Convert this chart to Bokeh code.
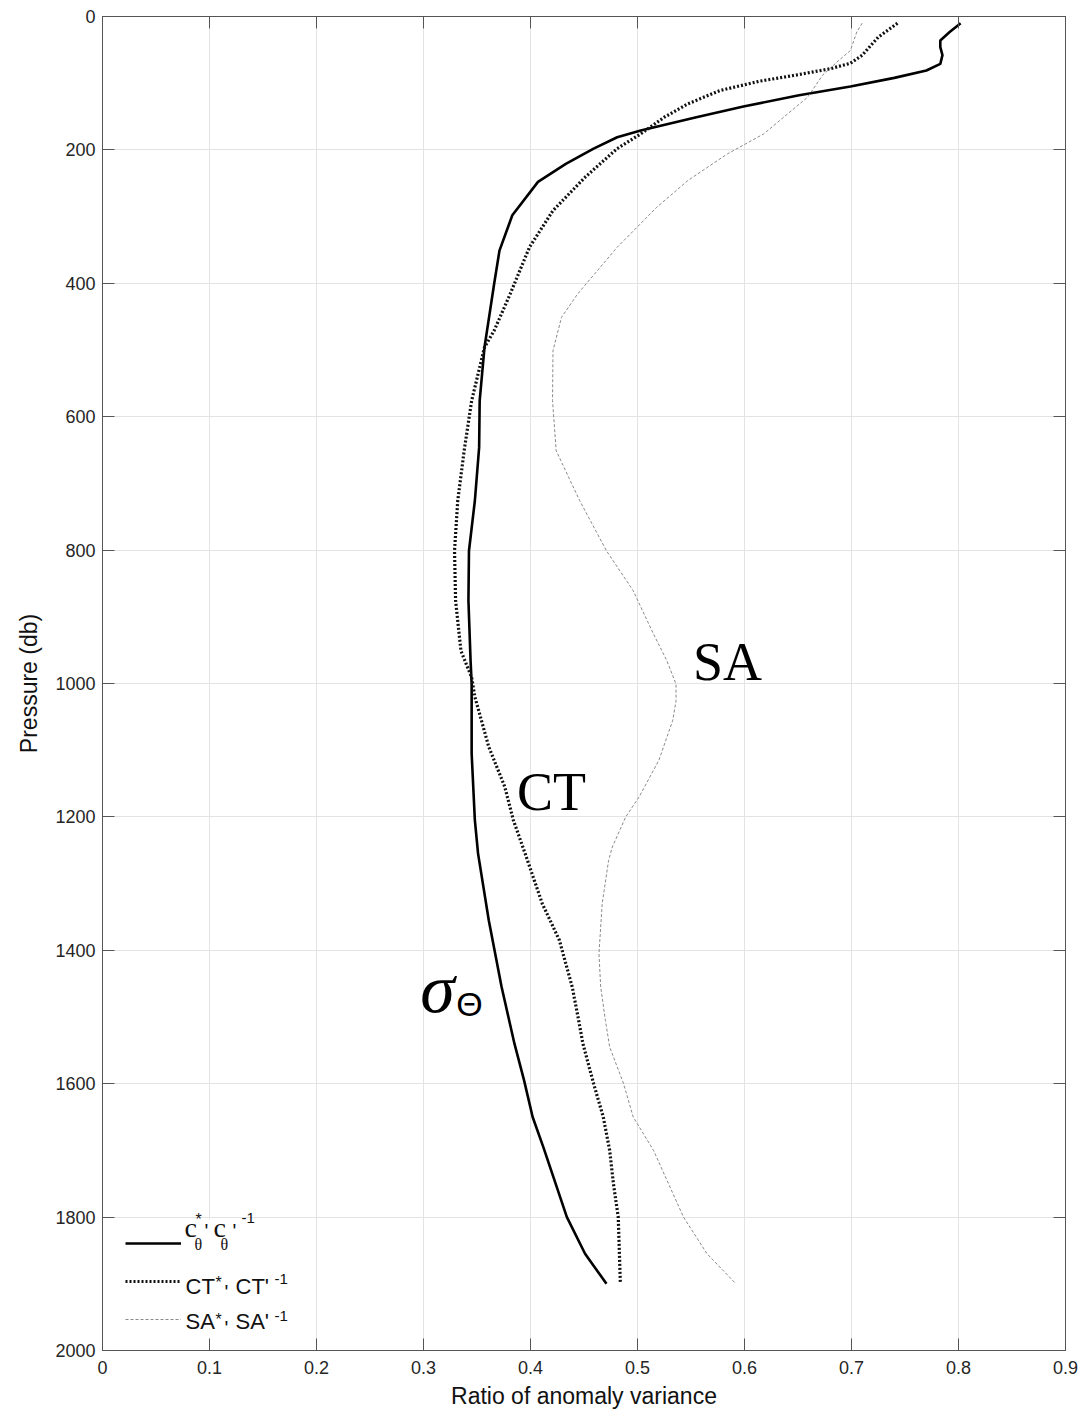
from bokeh.plotting import figure
from bokeh.models import (Range1d, FixedTicker, LinearAxis, Legend, LegendItem, Label, BoxAnnotation)
from bokeh.embed import file_html
from bokeh.resources import INLINE

# ---------------- data ----------------
p_ctheta = [10, 23, 36, 46, 58, 71, 81, 92, 105, 118, 135, 151, 171, 181, 198, 221, 248, 298, 351,
            401, 496, 576, 646, 726, 801, 876, 966, 1000, 1105, 1205, 1255, 1355, 1455, 1540, 1595,
            1650, 1695, 1800, 1855, 1900]
r_ctheta = [0.802, 0.792, 0.783, 0.783, 0.785, 0.783, 0.770, 0.740, 0.699, 0.651, 0.599, 0.555, 0.503,
            0.481, 0.459, 0.433, 0.407, 0.383, 0.371, 0.366, 0.357, 0.3525, 0.352, 0.348, 0.3425,
            0.342, 0.344, 0.345, 0.345, 0.348, 0.351, 0.361, 0.373, 0.385, 0.394, 0.402, 0.412,
            0.434, 0.451, 0.471]

p_ct = [10, 31, 58, 70, 78, 87, 97, 111, 131, 151, 176, 198, 241, 291, 346, 416, 471, 496, 576, 651,
        726, 801, 876, 951, 991, 1020, 1095, 1155, 1205, 1255, 1330, 1385, 1455, 1505, 1540, 1600,
        1650, 1700, 1750, 1800, 1900]
r_ct = [0.743, 0.725, 0.710, 0.699, 0.681, 0.651, 0.614, 0.577, 0.547, 0.525, 0.503, 0.481, 0.451,
        0.421, 0.399, 0.381, 0.366, 0.357, 0.345, 0.338, 0.332, 0.329, 0.330, 0.335, 0.345, 0.348,
        0.361, 0.376, 0.384, 0.395, 0.411, 0.427, 0.439, 0.445, 0.449, 0.459, 0.468, 0.474,
        0.4775, 0.482, 0.484]

p_sa = [10, 23, 51, 66, 88, 121, 141, 176, 206, 246, 286, 346, 416, 451, 501, 576, 651, 726, 801,
        861, 926, 966, 1001, 1026, 1055, 1115, 1170, 1200, 1245, 1265, 1330, 1405, 1455, 1505,
        1545, 1600, 1650, 1700, 1800, 1855, 1900]
r_sa = [0.710, 0.705, 0.699, 0.688, 0.673, 0.659, 0.644, 0.618, 0.584, 0.547, 0.518, 0.481, 0.444,
        0.429, 0.421, 0.4206, 0.424, 0.446, 0.471, 0.496, 0.515, 0.5275, 0.536, 0.536, 0.533,
        0.520, 0.5015, 0.489, 0.4765, 0.473, 0.467, 0.464, 0.4656, 0.470, 0.474, 0.487, 0.496,
        0.515, 0.543, 0.565, 0.592]

x_ticks = [0, 0.1, 0.2, 0.3, 0.4, 0.5, 0.6, 0.7, 0.8, 0.9]
x_tick_labels = ["0", "0.1", "0.2", "0.3", "0.4", "0.5", "0.6", "0.7", "0.8", "0.9"]
y_ticks = [0, 200, 400, 600, 800, 1000, 1200, 1400, 1600, 1800, 2000]

# ---------------- layout ----------------
W, H = 1081, 1413
FL, FR, FT, FB = 102, 1065, 16, 1350   # frame edges in pixels
XMAX, YMAX = 0.9, 2000


def dx(px):
    return (px - FL) / (FR - FL) * XMAX


def dy(py):
    return (py - FT) / (FB - FT) * YMAX


SANS = "Liberation Sans"
SERIF = "Liberation Serif"
AX = "#262626"

p = figure(width=W, height=H, output_backend="svg", toolbar_location=None,
           x_range=Range1d(0, XMAX), y_range=Range1d(YMAX, 0),
           min_border_left=FL, min_border_right=W - FR, min_border_top=FT, min_border_bottom=H - FB,
           x_axis_label="Ratio of anomaly variance", y_axis_label="Pressure (db)")
p.background_fill_color = "white"
p.border_fill_color = "white"
p.outline_line_color = "#555555"
p.outline_line_width = 1

p.xgrid.ticker = FixedTicker(ticks=x_ticks)
p.ygrid.ticker = FixedTicker(ticks=y_ticks)
p.grid.grid_line_color = "#e3e3e3"
p.grid.grid_line_width = 1

for ax in (p.xaxis[0], p.yaxis[0]):
    ax.axis_line_color = "#555555"
    ax.major_tick_line_color = "#555555"
    ax.major_tick_in = 12
    ax.major_tick_out = 0
    ax.minor_tick_line_color = None
    ax.major_label_text_font = SANS
    ax.major_label_text_font_size = "18px"
    ax.major_label_text_color = AX
    ax.axis_label_text_font = SANS
    ax.axis_label_text_font_size = "23px"
    ax.axis_label_text_font_style = "normal"
    ax.axis_label_text_color = "#111111"

p.xaxis.ticker = FixedTicker(ticks=x_ticks)
p.xaxis.major_label_overrides = {t: l for t, l in zip(x_ticks, x_tick_labels)}
p.xaxis.major_label_standoff = 10
p.xaxis.axis_label_standoff = 6
p.yaxis.ticker = FixedTicker(ticks=y_ticks)
p.yaxis.major_label_standoff = 7
p.yaxis.axis_label_standoff = 10

# box ticks on top and right (no labels)
top = LinearAxis(ticker=FixedTicker(ticks=x_ticks))
right = LinearAxis(ticker=FixedTicker(ticks=y_ticks))
for ax in (top, right):
    ax.axis_line_color = "#555555"
    ax.major_tick_line_color = "#555555"
    ax.major_tick_in = 12
    ax.major_tick_out = 0
    ax.minor_tick_line_color = None
    ax.major_label_text_font_size = "1px"
    ax.major_label_text_color = None
    ax.major_label_standoff = 0
p.add_layout(top, "above")
p.add_layout(right, "right")

# white legend panel (drawn above the grid, below the legend texts)
p.add_layout(BoxAnnotation(left=dx(116), right=dx(300), top=dy(1219), bottom=dy(1341),
                           fill_color="white", fill_alpha=1, line_color=None, level="underlay"))

# ---------------- lines ----------------
r1 = p.line(r_ctheta, p_ctheta, line_color="black", line_width=2.6)
r2 = p.line(r_ct, p_ct, line_color="#111111", line_width=3.2, line_dash="2 2")
r3 = p.line(r_sa, p_sa, line_color="#8a8a8a", line_width=1, line_dash="3 2")

legend = Legend(items=[LegendItem(label=" ", renderers=[r1]),
                       LegendItem(label=" ", renderers=[r2]),
                       LegendItem(label=" ", renderers=[r3])],
                location=(23, 19), orientation="vertical")
legend.glyph_width = 56
legend.glyph_height = 24
legend.label_height = 24
legend.label_width = 106
legend.spacing = 14
legend.padding = 8
legend.margin = 0
legend.border_line_color = None
legend.background_fill_alpha = 0
legend.label_text_font_size = "10px"
legend.label_text_color = None
p.add_layout(legend)


def lab(text, px, py, size, font=SANS, style="normal", align="left", color="#111111"):
    # py is the intended baseline in page pixels; shift for the renderer's baseline offset
    p.add_layout(Label(x=dx(px), y=dy(py - 0.34 * size), text=text, text_font=font,
                       text_font_size=f"{size}px", text_font_style=style, text_align=align,
                       text_baseline="alphabetic", text_color=color, level="overlay"))


# legend texts (row 1: c*θ' cθ' -1)
lab("c", 184, 1237, 28, SERIF)
lab("*", 195, 1224, 16)
lab("θ", 194, 1249, 16, SERIF)
lab("'", 204, 1237, 20)
lab("c", 213, 1237, 28, SERIF)
lab("θ", 220, 1249, 16, SERIF)
lab("'", 232, 1237, 20)
lab("-1", 241, 1223, 15)
# row 2: CT*' CT' -1
lab("CT", 185, 1293, 22)
lab("*", 215, 1287, 16)
lab("'", 224, 1298, 20)
lab("CT'", 235, 1293, 22)
lab("-1", 274, 1284, 15)
# row 3: SA*' SA' -1
lab("SA", 185, 1328, 22)
lab("*", 215, 1324, 16)
lab("'", 224, 1334, 20)
lab("SA'", 235, 1328, 22)
lab("-1", 274, 1321, 15)

# curve annotations
lab("SA", 727, 680, 54, SERIF, align="center", color="black")
lab("CT", 551, 810, 54, SERIF, align="center", color="black")
lab("σ", 437, 1012, 70, SERIF, style="italic", align="center", color="black")
lab("Θ", 469, 1015, 34, SANS, align="center", color="black")

open("out.html", "w").write(file_html(p, INLINE))
